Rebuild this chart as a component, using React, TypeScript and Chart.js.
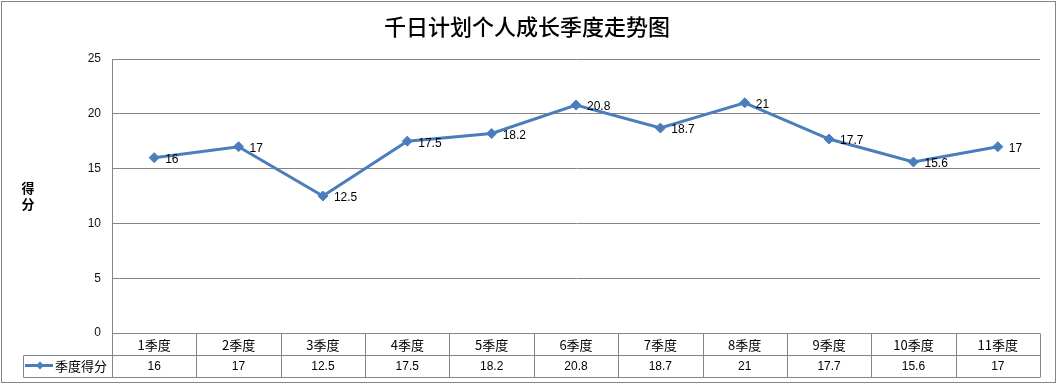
import React, { useEffect, useRef } from "react";
import { Chart, registerables } from "chart.js";

Chart.register(...registerables);

const title = "千日计划个人成长季度走势图";
const yAxisTitle = ["得", "分"];
const seriesName = "季度得分";
const categories = ["1季度", "2季度", "3季度", "4季度", "5季度", "6季度", "7季度", "8季度", "9季度", "10季度", "11季度"];
const scores = [16, 17, 12.5, 17.5, 18.2, 20.8, 18.7, 21, 17.7, 15.6, 17];
const yTicks = [0, 5, 10, 15, 20, 25];

const LINE = "rgb(74,126,187)";
const GRID = "#868686";
const CJK = '"Noto Sans CJK SC", "Liberation Sans", sans-serif';
const NUM = '"Liberation Sans", "DejaVu Sans", sans-serif';

const extrasPlugin = {
  id: "extras",
  afterDraw(chart: any) {
    const ctx = chart.ctx as CanvasRenderingContext2D;
    const area = chart.chartArea;
    const xs = chart.scales.x;
    const W = chart.width;
    const H = chart.height;
    ctx.save();
    // outer border
    ctx.strokeStyle = GRID;
    ctx.lineWidth = 1;
    ctx.strokeRect(1.5, 1.5, W - 3, H - 4);

    // title
    ctx.fillStyle = "#000";
    ctx.font = `500 22px ${CJK}`;
    ctx.textAlign = "center";
    ctx.textBaseline = "middle";
    ctx.fillText(title, 527, 27);

    // y axis title
    ctx.font = `bold 13px ${CJK}`;
    ctx.fillText(yAxisTitle[0], 28, 188);
    ctx.fillText(yAxisTitle[1], 28, 204);

    // data labels
    const meta = chart.getDatasetMeta(0);
    ctx.font = `12px ${NUM}`;
    ctx.textAlign = "left";
    meta.data.forEach((pt: any, i: number) => {
      ctx.fillText(String(scores[i]), pt.x + 11, pt.y + 2);
    });

    // table
    const top = area.bottom;
    const rowH = 21.5;
    const mid = top + rowH;
    const bot = mid + 22;
    const left = area.left;
    const right = area.right;
    const legendLeft = 23.5;
    const n = categories.length;
    const colW = (right - left) / n;
    ctx.strokeStyle = GRID;
    ctx.lineWidth = 1;
    ctx.beginPath();
    ctx.moveTo(left, Math.round(top) + 0.5);
    ctx.lineTo(right, Math.round(top) + 0.5);
    ctx.moveTo(legendLeft, Math.round(mid) + 0.5);
    ctx.lineTo(right, Math.round(mid) + 0.5);
    ctx.moveTo(legendLeft, Math.round(bot) + 0.5);
    ctx.lineTo(right, Math.round(bot) + 0.5);
    ctx.moveTo(legendLeft, Math.round(mid) + 0.5);
    ctx.lineTo(legendLeft, Math.round(bot) + 0.5);
    for (let i = 0; i <= n; i++) {
      const x = Math.round(left + i * colW) + 0.5;
      ctx.moveTo(x, Math.round(top) + 0.5);
      ctx.lineTo(x, Math.round(bot) + 0.5);
    }
    ctx.stroke();

    ctx.fillStyle = "#000";
    ctx.textAlign = "center";
    ctx.textBaseline = "middle";
    for (let i = 0; i < n; i++) {
      const cx = xs.getPixelForValue(i);
      ctx.font = `13px ${CJK}`;
      ctx.fillText(categories[i], cx, top + rowH / 2 + 1);
      ctx.font = `12px ${NUM}`;
      ctx.fillText(String(scores[i]), cx, mid + 11 + 1);
    }

    // legend key
    const ly = mid + 11;
    ctx.strokeStyle = LINE;
    ctx.lineWidth = 3;
    ctx.beginPath();
    ctx.moveTo(25, ly);
    ctx.lineTo(53, ly);
    ctx.stroke();
    ctx.fillStyle = LINE;
    ctx.beginPath();
    ctx.moveTo(40, ly - 4);
    ctx.lineTo(44, ly);
    ctx.lineTo(40, ly + 4);
    ctx.lineTo(36, ly);
    ctx.closePath();
    ctx.fill();
    ctx.fillStyle = "#000";
    ctx.font = `13px ${CJK}`;
    ctx.textAlign = "left";
    ctx.fillText(seriesName, 55, ly + 1);
    ctx.restore();
  },
};

export default function App() {
  const ref = useRef<HTMLCanvasElement>(null);
  useEffect(() => {
    if (!ref.current) return;
    const chart = new Chart(ref.current, {
      type: "line",
      data: {
        labels: categories,
        datasets: [
          {
            label: seriesName,
            data: scores,
            borderColor: LINE,
            backgroundColor: LINE,
            borderWidth: 3,
            pointStyle: "rectRot",
            pointRadius: 5,
            pointHoverRadius: 5,
            pointBackgroundColor: LINE,
            pointBorderColor: LINE,
            pointBorderWidth: 1,
            tension: 0,
            clip: false as any,
          },
        ],
      },
      options: {
        responsive: false,
        animation: false,
        devicePixelRatio: 1,
        layout: { padding: { left: 0, top: 59, right: 17, bottom: 52 }, autoPadding: false } as any,
        plugins: {
          legend: { display: false },
          title: { display: false },
          tooltip: { enabled: false },
        },
        scales: {
          x: {
            type: "category",
            display: false,
            offset: true,
          },
          y: {
            min: 0,
            max: 25,
            afterBuildTicks: (s: any) => {
              s.ticks = yTicks.map((v) => ({ value: v }));
            },
            afterFit: (s: any) => {
              s.width = 112;
            },
            grid: { color: GRID, drawTicks: false, lineWidth: 1 },
            border: { display: true, color: GRID, width: 1 },
            ticks: {
              padding: 11,
              color: "#111",
              font: { family: NUM, size: 12 },
            },
          },
        },
      },
      plugins: [extrasPlugin],
    });
    return () => chart.destroy();
  }, []);
  return (
    <div style={{ position: "absolute", left: 0, top: 0, width: 1057, height: 385, background: "#fff" }}>
      <canvas ref={ref} width={1057} height={385} style={{ width: 1057, height: 385, display: "block" }} />
    </div>
  );
}
